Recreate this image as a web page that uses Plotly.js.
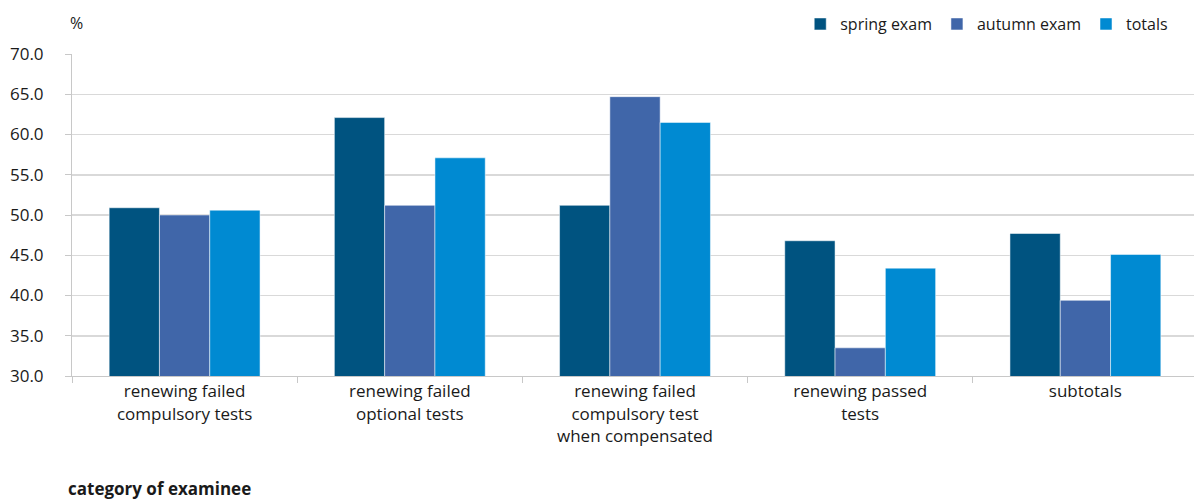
<!DOCTYPE html>
<html>
<head>
<meta charset="utf-8">
<script src="https://cdn.plot.ly/plotly-3.0.1.min.js"></script>
<style>
html,body{margin:0;padding:0;overflow:hidden;background:#fff;}
#chart{width:1198px;height:500px;}
</style>
</head>
<body>
<div id="chart"></div>
<script>
const categories = [
  "renewing failed<br>compulsory tests",
  "renewing failed<br>optional tests",
  "renewing failed<br>compulsory test<br>when compensated",
  "renewing passed<br>tests",
  "subtotals"
];
const seriesNames = ["spring exam", "autumn exam", "totals"];
const springExam = [50.9, 62.1, 51.2, 46.8, 47.7];
const autumnExam = [50.0, 51.2, 64.7, 33.5, 39.4];
const totals = [50.6, 57.1, 61.5, 43.4, 45.1];
const colors = ["#005380", "#4066a9", "#008ad2"];

const FONT = "Open Sans, Noto Sans, sans-serif";
const values = [springExam, autumnExam, totals];
const traces = values.map((v, i) => ({
  type: "bar",
  name: seriesNames[i],
  x: categories,
  y: v,
  marker: {color: colors[i], line: {color: "rgba(255,255,255,0.5)", width: 1}},
  hoverinfo: "skip"
}));

const layout = {
  width: 1198, height: 500,
  margin: {l: 72, r: 0, t: 54, b: 124},
  paper_bgcolor: "#fff", plot_bgcolor: "#fff",
  barmode: "group", bargap: 0.33, bargroupgap: 0,
  font: {family: FONT, color: "#1a1a1a", size: 16},
  showlegend: true,
  legend: {
    orientation: "h", x: 0.978, xanchor: "right", y: 1.093, yanchor: "middle",
    font: {family: FONT, size: 16, color: "#1a1a1a"},
    itemwidth: 30, traceorder: "normal", bgcolor: "rgba(0,0,0,0)"
  },
  xaxis: {
    type: "category",
    showline: true, linecolor: "#c8c8c8", linewidth: 1,
    ticks: "outside", tickson: "boundaries", ticklen: 6, tickcolor: "#c8c8c8",
    tickangle: 0,
    tickfont: {family: FONT, size: 17, color: "#1a1a1a"},
    showgrid: false, fixedrange: true
  },
  yaxis: {
    range: [30, 70], dtick: 5, tick0: 30, tickformat: ".1f",
    showline: true, linecolor: "#c8c8c8", linewidth: 1,
    ticks: "outside", ticklen: 6, tickcolor: "#c8c8c8",
    ticklabelstandoff: 18,
    tickfont: {family: FONT, size: 17, color: "#1a1a1a"},
    showgrid: true, gridcolor: "#d9d9d9", gridwidth: 1.5,
    zeroline: false, fixedrange: true
  },
  annotations: [
    {text: "%", xref: "paper", yref: "paper", x: 0, y: 1, xshift: -4, yshift: 31,
     xanchor: "left", yanchor: "middle", showarrow: false,
     font: {family: FONT, size: 16, color: "#1a1a1a"}},
    {text: "<b>category of examinee</b>", xref: "paper", yref: "paper", x: 0, y: 0,
     xshift: -6, yshift: -112, xanchor: "left", yanchor: "middle", showarrow: false,
     font: {family: FONT, size: 17, color: "#1a1a1a"}}
  ]
};
Plotly.newPlot("chart", traces, layout, {displayModeBar: false, staticPlot: true});
</script>
</body>
</html>
